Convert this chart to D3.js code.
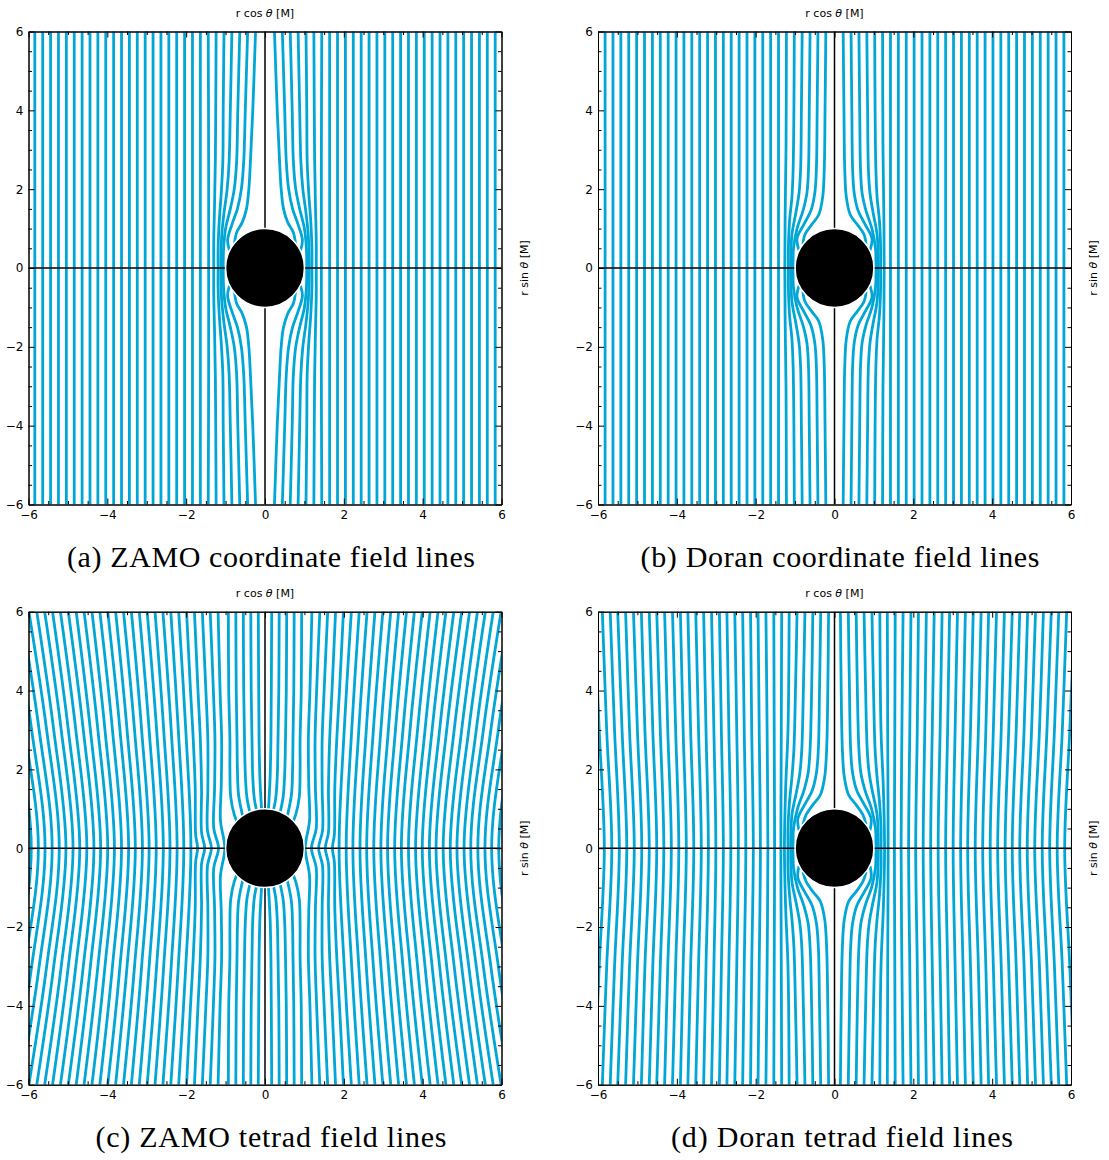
<!DOCTYPE html>
<html>
<head>
<meta charset="utf-8">
<script src="https://cdn.jsdelivr.net/npm/d3@7"></script>
<style>
  body { margin: 0; background: #fff; }
  text { font-family: 'DejaVu Sans', sans-serif; }
</style>
</head>
<body>
<div id="fig"></div>
<script>
// Tick values and labels shared by all four panels
const majorTicks = [-6, -4, -2, 0, 2, 4, 6]
const minorTicks = [-5.5, -5, -4.5, -3.5, -3, -2.5, -1.5, -1, -0.5, 0.5, 1, 1.5, 2.5, 3, 3.5, 4.5, 5, 5.5]
const tickLabels = ['−6', '−4', '−2', '0', '2', '4', '6']
const captions = ['(a) ZAMO coordinate field lines', '(b) Doran coordinate field lines',
  '(c) ZAMO tetrad field lines', '(d) Doran tetrad field lines']
const horizonRadius = 1

// Field lines, upper-left quadrant only (x<0, y>0); the other quadrants are mirror images.
// Curved lines: list of [x, y], from the top edge downwards.
// Near-straight lines: [x at y=6, x at y=3, x at y=0].

// (a) ZAMO coordinate
const zamoCoordCurved = [
  [[-0.24, 6], [-0.31, 4], [-0.37, 2.7], [-0.41, 2.0], [-0.47, 1.5], [-0.58, 1.15], [-0.72, 0.9], [-0.78, 0.55]],
  [[-0.44, 6], [-0.5, 4], [-0.54, 2.7], [-0.6, 2.0], [-0.7, 1.5], [-0.84, 1.1], [-0.95, 0.7], [-0.9, 0.45]],
  [[-0.64, 6], [-0.69, 4], [-0.72, 2.7], [-0.78, 2.0], [-0.88, 1.5], [-1.0, 1.0], [-1.05, 0.5], [-1.06, 0]],
  [[-0.84, 6], [-0.88, 4], [-0.91, 2.7], [-0.96, 2.0], [-1.04, 1.4], [-1.1, 0.8], [-1.12, 0]],
  [[-1.04, 6], [-1.06, 4], [-1.07, 2.7], [-1.11, 1.9], [-1.16, 1.2], [-1.19, 0.5], [-1.19, 0]],
  [[-1.24, 6], [-1.25, 4], [-1.26, 2.7], [-1.28, 1.6], [-1.3, 0.7], [-1.3, 0]],
  [[-1.44, 6], [-1.43, 2.7], [-1.43, 0]]
]
const zamoCoordStraight = [-1.64, -1.84, -2.04, -2.24, -2.44, -2.64, -2.84, -3.04, -3.24, -3.44, -3.64,
  -3.84, -4.04, -4.24, -4.44, -4.64, -4.84, -5.04, -5.24, -5.44, -5.64, -5.84]

// (b) Doran coordinate
const doranCoordCurved = [
  [[-0.22, 6], [-0.24, 4], [-0.26, 2.5], [-0.3, 1.8], [-0.4, 1.35], [-0.58, 1.1], [-0.75, 0.85], [-0.8, 0.6]],
  [[-0.42, 6], [-0.44, 4], [-0.46, 2.5], [-0.5, 1.9], [-0.6, 1.45], [-0.78, 1.1], [-0.95, 0.75], [-0.9, 0.45]],
  [[-0.62, 6], [-0.64, 4], [-0.66, 2.5], [-0.7, 1.9], [-0.8, 1.45], [-0.95, 1.0], [-1.04, 0.5], [-1.05, 0]],
  [[-0.82, 6], [-0.84, 4], [-0.86, 2.5], [-0.9, 1.9], [-0.98, 1.4], [-1.08, 0.85], [-1.11, 0]],
  [[-1.02, 6], [-1.03, 4], [-1.05, 2.5], [-1.08, 1.8], [-1.14, 1.2], [-1.17, 0.5], [-1.17, 0]],
  [[-1.22, 6], [-1.23, 3], [-1.25, 1.5], [-1.26, 0]]
]
const doranCoordStraight = [-1.42, -1.62, -1.82, -2.02, -2.22, -2.42, -2.62, -2.82, -3.02, -3.22, -3.42,
  -3.62, -3.82, -4.02, -4.22, -4.42, -4.62, -4.82, -5.02, -5.22, -5.42, -5.62, -5.82]

// (c) ZAMO tetrad: inner lines run into the horizon almost radially,
// the next ones kink towards it at the equator
const zamoTetradCurved = [
  [[-0.17, 6], [-0.16, 4], [-0.15, 2.75], [-0.13, 1.8], [-0.1, 1.2], [-0.08, 0.9]],
  [[-0.36, 6], [-0.35, 4], [-0.33, 2.75], [-0.31, 1.8], [-0.27, 1.25], [-0.2, 0.9]],
  [[-0.55, 6], [-0.54, 4], [-0.52, 2.75], [-0.5, 1.9], [-0.46, 1.3], [-0.37, 0.85]],
  [[-0.74, 6], [-0.73, 4], [-0.71, 2.75], [-0.7, 2.0], [-0.67, 1.35], [-0.55, 0.75]],
  [[-0.93, 6], [-0.92, 4], [-0.89, 2.75], [-0.89, 2.0], [-0.87, 1.3], [-0.78, 0.85], [-0.68, 0.6]],
  [[-1.19, 6], [-1.14, 4], [-1.1, 2.75], [-1.11, 1.6], [-1.13, 0.7], [-1.02, 0]],
  [[-1.39, 6], [-1.31, 4], [-1.27, 2.75], [-1.28, 1.5], [-1.3, 0.5], [-1.18, 0]],
  [[-1.59, 6], [-1.5, 4], [-1.45, 2.75], [-1.45, 1.5], [-1.46, 0.45], [-1.36, 0]],
  [[-1.79, 6], [-1.7, 4], [-1.64, 2.75], [-1.61, 1.5], [-1.61, 0.4], [-1.53, 0]],
  [[-1.99, 6], [-1.89, 4], [-1.82, 2.75], [-1.77, 1.5], [-1.76, 0.35], [-1.71, 0]]
]
const zamoTetradFar = [
  [-2.19, -2.01, -1.88], [-2.39, -2.20, -2.06], [-2.59, -2.38, -2.23],
  [-2.79, -2.57, -2.41], [-2.99, -2.75, -2.58], [-3.19, -2.94, -2.76], [-3.39, -3.13, -2.94],
  [-3.59, -3.31, -3.11], [-3.79, -3.50, -3.29], [-3.99, -3.68, -3.46], [-4.19, -3.87, -3.64],
  [-4.39, -4.06, -3.82], [-4.59, -4.24, -3.99], [-4.79, -4.43, -4.17], [-4.99, -4.61, -4.34],
  [-5.19, -4.80, -4.52], [-5.39, -4.99, -4.70], [-5.59, -5.17, -4.87], [-5.79, -5.36, -5.05],
  [-5.99, -5.54, -5.22], [-6.19, -5.73, -5.40], [-6.39, -5.92, -5.58], [-6.59, -6.10, -5.75],
  [-6.79, -6.29, -5.93]
]

// (d) Doran tetrad
const doranTetradCurved = [
  [[-0.15, 6], [-0.17, 4], [-0.2, 2.5], [-0.25, 1.8], [-0.36, 1.35], [-0.55, 1.1], [-0.72, 0.85], [-0.8, 0.6]],
  [[-0.35, 6], [-0.38, 4], [-0.41, 2.5], [-0.46, 1.9], [-0.57, 1.45], [-0.76, 1.1], [-0.93, 0.75], [-0.9, 0.45]],
  [[-0.55, 6], [-0.58, 4], [-0.62, 2.5], [-0.67, 1.9], [-0.78, 1.45], [-0.94, 1.0], [-1.04, 0.5], [-1.05, 0]],
  [[-0.75, 6], [-0.79, 4], [-0.83, 2.5], [-0.88, 1.9], [-0.97, 1.4], [-1.08, 0.85], [-1.11, 0]],
  [[-0.95, 6], [-0.99, 4], [-1.03, 2.5], [-1.08, 1.8], [-1.14, 1.2], [-1.18, 0.5], [-1.18, 0]],
  [[-1.15, 6], [-1.18, 3], [-1.24, 1.5], [-1.27, 0]]
]
const doranTetradFar = [
  [-1.34, -1.35, -1.36], [-1.54, -1.53, -1.52], [-1.74, -1.71, -1.69], [-1.94, -1.91, -1.88],
  [-2.13, -2.10, -2.06], [-2.33, -2.29, -2.25], [-2.53, -2.48, -2.44], [-2.73, -2.68, -2.63],
  [-2.92, -2.87, -2.82], [-3.12, -3.06, -3.01], [-3.32, -3.26, -3.20], [-3.52, -3.45, -3.38],
  [-3.72, -3.65, -3.57], [-3.91, -3.84, -3.76], [-4.11, -4.03, -3.95], [-4.31, -4.23, -4.14],
  [-4.51, -4.42, -4.33], [-4.70, -4.61, -4.51], [-4.90, -4.81, -4.70], [-5.10, -5.00, -4.89],
  [-5.30, -5.20, -5.08], [-5.50, -5.39, -5.27], [-5.69, -5.58, -5.46], [-5.89, -5.78, -5.65],
  [-6.09, -5.97, -5.84], [-6.29, -6.17, -6.03]
]

// Layout of the four panels (pixels)
const plotSize = 473
const panels = [
  { left: 28.5, top: 31.5, curved: zamoCoordCurved, straight: zamoCoordStraight, far: [], captionY: 567, captionW: 408, captionX: 271 },
  { left: 598, top: 31.5, curved: doranCoordCurved, straight: doranCoordStraight, far: [], captionY: 567, captionW: 399, captionX: 840 },
  { left: 28.5, top: 611.7, curved: zamoTetradCurved, straight: [], far: zamoTetradFar, captionY: 1147, captionW: 351, captionX: 271 },
  { left: 598, top: 611.7, curved: doranTetradCurved, straight: [], far: doranTetradFar, captionY: 1147, captionW: 342, captionX: 842 }
]

const lineColor = '#00a6d6'

const svg = d3.select('#fig')
  .append('svg')
  .attr('width', 1109)
  .attr('height', 1160)

const x = d3.scaleLinear().domain([-6, 6]).range([0, plotSize])
const y = d3.scaleLinear().domain([-6, 6]).range([plotSize, 0])

const curve = d3.line()
  .x(d => x(d[0]))
  .y(d => y(d[1]))
  .curve(d3.curveCatmullRom.alpha(0.5))

// Turn one quadrant line into full paths in all four quadrants
function mirrorLine(pts) {
  const paths = []
  const last = pts[pts.length - 1]
  let halves
  if (last[1] === 0) {
    const lower = pts.slice(0, -1).reverse().map(p => [p[0], -p[1]])
    halves = [pts.concat(lower)]
  } else {
    halves = [pts, pts.map(p => [p[0], -p[1]])]
  }
  halves.forEach(h => {
    paths.push(h)
    paths.push(h.map(p => [-p[0], p[1]]))
  })
  return paths
}

panels.forEach((p, i) => {
  const g = svg.append('g').attr('transform', 'translate(' + p.left + ',' + p.top + ')')

  g.append('clipPath').attr('id', 'clip' + i)
    .append('rect').attr('width', plotSize).attr('height', plotSize)

  const plot = g.append('g').attr('clip-path', 'url(#clip' + i + ')')

  let lines = []
  p.curved.forEach(l => { lines = lines.concat(mirrorLine(l)) })
  p.straight.forEach(v => { lines = lines.concat(mirrorLine([[v, 6], [v, 0]])) })
  p.far.forEach(v => { lines = lines.concat(mirrorLine([[v[0], 6], [v[1], 3], [v[2], 0]])) })

  plot.selectAll('path.field')
    .data(lines)
    .join('path')
    .attr('class', 'field')
    .attr('fill', 'none')
    .attr('stroke', lineColor)
    .attr('stroke-width', 2.8)
    .attr('d', curve)

  // zero lines
  plot.append('line')
    .attr('x1', x(0)).attr('x2', x(0)).attr('y1', 0).attr('y2', plotSize)
    .attr('stroke', '#000').attr('stroke-width', 1.5)
  plot.append('line')
    .attr('x1', 0).attr('x2', plotSize).attr('y1', y(0)).attr('y2', y(0))
    .attr('stroke', '#000').attr('stroke-width', 1.5)

  // horizon
  plot.append('circle')
    .attr('cx', x(0)).attr('cy', y(0))
    .attr('r', x(horizonRadius) - x(0))
    .attr('fill', '#000')
    .attr('stroke', '#fff')
    .attr('stroke-width', 1.5)

  // axes with inward ticks
  const fmt = (d) => tickLabels[majorTicks.indexOf(d)]
  g.append('g').attr('transform', 'translate(0,' + plotSize + ')')
    .call(d3.axisBottom(x).tickValues(majorTicks).tickSizeInner(-6).tickSizeOuter(0).tickPadding(6).tickFormat(fmt))
  g.append('g').attr('transform', 'translate(0,' + plotSize + ')')
    .call(d3.axisBottom(x).tickValues(minorTicks).tickSizeInner(-3.5).tickSizeOuter(0).tickFormat(''))
  g.append('g')
    .call(d3.axisLeft(y).tickValues(majorTicks).tickSizeInner(-6).tickSizeOuter(0).tickPadding(5).tickFormat(fmt))
  g.append('g')
    .call(d3.axisLeft(y).tickValues(minorTicks).tickSizeInner(-3.5).tickSizeOuter(0).tickFormat(''))
  g.append('g')
    .call(d3.axisTop(x).tickValues(majorTicks).tickSizeInner(-6).tickSizeOuter(0).tickFormat(''))
  g.append('g')
    .call(d3.axisTop(x).tickValues(minorTicks).tickSizeInner(-3.5).tickSizeOuter(0).tickFormat(''))
  g.append('g').attr('transform', 'translate(' + plotSize + ',0)')
    .call(d3.axisRight(y).tickValues(majorTicks).tickSizeInner(-6).tickSizeOuter(0).tickFormat(''))
  g.append('g').attr('transform', 'translate(' + plotSize + ',0)')
    .call(d3.axisRight(y).tickValues(minorTicks).tickSizeInner(-3.5).tickSizeOuter(0).tickFormat(''))

  g.selectAll('.tick text').attr('font-size', 12).attr('font-family', "'DejaVu Sans', sans-serif").attr('fill', '#000')
  g.selectAll('.domain').attr('stroke', '#000')

  // axis titles
  const top = g.append('text')
    .attr('x', x(0)).attr('y', -15)
    .attr('text-anchor', 'middle')
    .attr('font-size', 11)
  top.append('tspan').text('r cos ')
  top.append('tspan').attr('font-style', 'italic').text('θ')
  top.append('tspan').text(' [M]')

  const right = g.append('text')
    .attr('transform', 'translate(' + (plotSize + 26) + ',' + y(0) + ') rotate(-90)')
    .attr('text-anchor', 'middle')
    .attr('font-size', 11)
  right.append('tspan').text('r sin ')
  right.append('tspan').attr('font-style', 'italic').text('θ')
  right.append('tspan').text(' [M]')

  // caption
  svg.append('text')
    .attr('x', p.captionX).attr('y', p.captionY)
    .attr('text-anchor', 'middle')
    .style('font-family', "'Liberation Serif', serif")
    .attr('font-size', 30)
    .attr('textLength', p.captionW)
    .attr('lengthAdjust', 'spacing')
    .text(captions[i])
})
</script>
</body>
</html>
